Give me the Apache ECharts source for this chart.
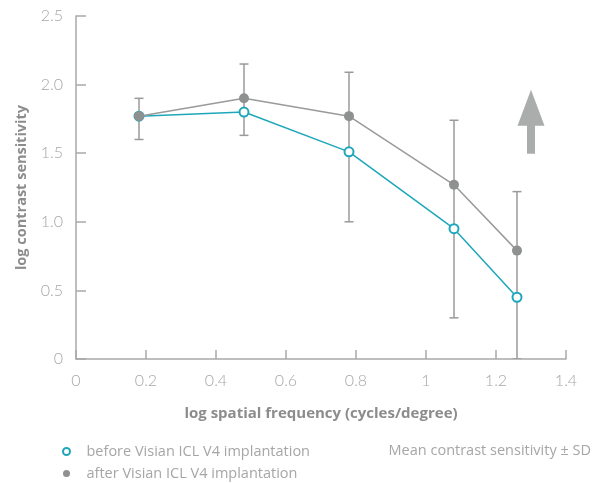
<!DOCTYPE html>
<html>
<head>
<meta charset="utf-8">
<script src="https://cdn.jsdelivr.net/npm/echarts@6/dist/echarts.min.js"></script>
<style>html,body{margin:0;padding:0;background:#fff}#c{width:601px;height:483px}</style>
</head>
<body>
<div id="c"></div>
<script>
// log spatial frequency (x) for each measurement
var freqs = [0.18, 0.48, 0.78, 1.08, 1.26];
// mean log contrast sensitivity
var before = [1.77, 1.80, 1.51, 0.95, 0.45];
var after = [1.77, 1.90, 1.77, 1.27, 0.79];
// ± SD whisker ends (lower, upper)
var errLow = [1.60, 1.63, 1.00, 0.30, -0.05];
var errHigh = [1.90, 2.15, 2.09, 1.74, 1.22];
var yTickLabels = ['0', '0.5', '1.0', '1.5', '2.0', '2.5'];
var xTickLabels = ['0', '0.2', '0.4', '0.6', '0.8', '1', '1.2', '1.4'];
var seriesNames = ['before Visian ICL V4 implantation', 'after Visian ICL V4 implantation'];
var noteText = 'Mean contrast sensitivity \u00b1 SD';
var arrowPos = [1.30, 1.73];

var TEAL = '#1ea7ba', GRAY = '#8f9090', AX = '#a9a9a9', LBL = '#a6a6a6';
var font = 'Lato, "Open Sans", sans-serif';
var font2 = '"Open Sans", Lato, sans-serif';

function pairs(ys) { return freqs.map(function (x, i) { return [x, ys[i]]; }); }

var chart = echarts.init(document.getElementById('c'));
chart.setOption({
  animation: false,
  grid: { left: 76, right: 35, top: 16, bottom: 124 },
  title: {
    text: noteText, right: 10, top: 443, padding: 0,
    textStyle: { fontSize: 14.5, fontWeight: 'normal', color: LBL, fontFamily: font2 }
  },
  legend: {
    orient: 'vertical', left: 62, top: 444, padding: 0, itemGap: 7, itemWidth: 30, itemHeight: 7,
    textStyle: { fontSize: 14.5, lineHeight: 14, color: LBL, fontFamily: font2 },
    data: [{ name: seriesNames[0], icon: 'emptyCircle' }, { name: seriesNames[1], icon: 'circle' }]
  },
  xAxis: {
    type: 'value', min: 0, max: 1.4, interval: 0.2,
    name: 'log spatial frequency (cycles/degree)', nameLocation: 'middle', nameGap: 47,
    nameTextStyle: { fontSize: 15, fontWeight: 'bold', color: '#8c8c8c', fontFamily: font2 },
    axisLine: { lineStyle: { color: AX, width: 1.5 } },
    axisTick: { inside: true, length: 9, lineStyle: { color: AX, width: 1.5 } },
    axisLabel: { margin: 14, fontSize: 16, color: LBL, fontFamily: font, fontWeight: 300,
      formatter: function (v, i) { return xTickLabels[i]; } },
    splitLine: { show: false }
  },
  yAxis: {
    type: 'value', min: 0, max: 2.5, interval: 0.5,
    name: 'log contrast sensitivity', nameLocation: 'middle', nameGap: 46,
    nameTextStyle: { fontSize: 14.5, fontWeight: 'bold', color: '#8c8c8c', fontFamily: font2 },
    axisLine: { show: true, lineStyle: { color: AX, width: 1.5 } },
    axisTick: { show: true, inside: true, length: 10, lineStyle: { color: AX, width: 1.5 } },
    axisLabel: { margin: 13, fontSize: 16, color: LBL, fontFamily: font, fontWeight: 300,
      formatter: function (v, i) { return yTickLabels[i]; } },
    splitLine: { show: false }
  },
  series: [
    {
      type: 'custom', name: 'sd', z: 1, silent: true,
      data: freqs.map(function (x, i) { return [x, errLow[i], errHigh[i]]; }),
      clip: true,
      renderItem: function (params, api) {
        var lo = api.coord([api.value(0), Math.max(api.value(1), 0)]);
        var hi = api.coord([api.value(0), api.value(2)]);
        var w = 4.5;
        var st = { stroke: '#9a9a9a', lineWidth: 1.5 };
        return { type: 'group', children: [
          { type: 'line', shape: { x1: lo[0], y1: lo[1], x2: hi[0], y2: hi[1] }, style: st },
          { type: 'line', shape: { x1: hi[0] - w, y1: hi[1], x2: hi[0] + w, y2: hi[1] }, style: st },
          { type: 'line', shape: { x1: lo[0] - w, y1: lo[1], x2: lo[0] + w, y2: lo[1] }, style: st }
        ] };
      }
    },
    {
      type: 'line', name: seriesNames[1], z: 4, data: pairs(after),
      symbol: 'circle', symbolSize: 10,
      lineStyle: { color: '#9a9a9a', width: 1.5 },
      itemStyle: { color: GRAY },
      markPoint: {
        silent: true, symbol: 'path://M13.5,0 L27,36 L17.5,36 L17.5,64 L9.5,64 L9.5,36 L0,36 Z',
        symbolSize: [27, 64], itemStyle: { color: '#abadac' }, label: { show: false },
        data: [{ coord: arrowPos }]
      }
    },
    {
      type: 'line', name: seriesNames[0], z: 3, data: pairs(before),
      symbol: 'emptyCircle', symbolSize: 9,
      lineStyle: { color: TEAL, width: 1.5 },
      itemStyle: { color: TEAL, borderWidth: 1.5 }
    }
  ]
});
</script>
</body>
</html>
